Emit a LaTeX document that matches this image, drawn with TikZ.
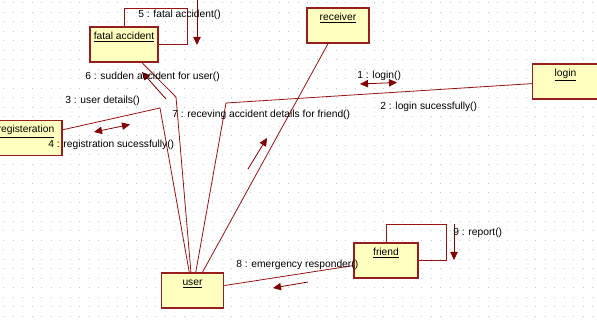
\documentclass[tikz,border=0pt]{standalone}
\usepackage{fontspec}
\setmainfont{Liberation Sans}
\usetikzlibrary{positioning,calc,arrows.meta}

\definecolor{objfill}{RGB}{255,255,192}
\definecolor{objline}{RGB}{150,30,30}
\definecolor{linkcol}{RGB}{150,20,20}
\definecolor{tipcol}{RGB}{128,0,0}
\definecolor{dotcol}{RGB}{200,200,200}
\newcommand{\umlfont}{\fontsize{7.7}{9}\selectfont}

\tikzset{
  obj/.style={draw=objline, fill=objfill, line width=0.8pt, minimum width=#1,
              text height=7pt, text depth=14.75pt, inner xsep=2pt, inner ysep=2.25pt,
              font=\umlfont},
  link/.style={draw=linkcol, line width=0.6pt},
  msg/.style={draw=tipcol, line width=0.6pt, -{Triangle[length=6pt,width=5.5pt]}},
  msgboth/.style={draw=tipcol, line width=0.6pt,
                  {Triangle[length=6pt,width=5.5pt]}-{Triangle[length=6pt,width=5.5pt]}},
  lbl/.style={anchor=west, inner sep=0pt, font=\umlfont}
}

\begin{document}
\begin{tikzpicture}[x=0.75pt, y=-0.75pt]
\clip (0,0) rectangle (597,320);
\fill[white] (0,0) rectangle (597,320);
\foreach \r in {0,...,33}
  \draw[dotcol, line width=0.75pt, dash pattern=on 0.75pt off 6.375pt]
    (3,{3+9.5*\r}) -- (597,{3+9.5*\r});

% objects
\node[obj=51pt]   (fatal)    at (124,44.5)  {\underline{fatal accident}};
\node[obj=46.5pt] (receiver) at (338,25.5)  {\underline{receiver}};
\node[obj=49pt]   (login)    at (565.5,81.5) {\underline{login}};
\node[obj=54pt]   (reg)      at (26,138)    {\underline{registeration}};
\node[obj=47pt]   (user)     at (192.5,290.5) {\underline{user}};
\node[obj=48pt]   (friend)   at (386,260.5) {\underline{friend}};

% bends of the links
\coordinate (regbend)   at (160,108);
\coordinate (fatalbend) at (176,97);
\coordinate (loginbend) at (226,103);

% links
\draw[link] (reg) -- (regbend) -- (user);
\draw[link] (fatal) -- (fatalbend) -- (user);
\draw[link] (login) -- (loginbend) -- (user);
\draw[link] (receiver) -- (user);
\draw[link] (user) -- (friend);
\draw[link] (fatal.north) |- (187,8) |- (fatal.east);
\draw[link] (friend.north) |- (446,224) |- (friend.east);

% message arrows
\coordinate (m5a) at (197,0);   \coordinate (m5b) at (197,45);
\coordinate (m6a) at (166,99);  \coordinate (m6b) at (142,72);
\coordinate (m34a) at (94,132); \coordinate (m34b) at (130,124.5);
\coordinate (m12a) at (360,84); \coordinate (m12b) at (397,82.5);
\coordinate (m7a) at (248,169); \coordinate (m7b) at (267,138);
\coordinate (m8a) at (308,282); \coordinate (m8b) at (273,288);
\coordinate (m9a) at (454,224); \coordinate (m9b) at (454,260);
\draw[msg] (m5a) -- (m5b);
\draw[msg] (m6a) -- (m6b);
\draw[msgboth] (m34a) -- (m34b);
\draw[msgboth] (m12a) -- (m12b);
\draw[msg] (m7a) -- (m7b);
\draw[msg] (m8a) -- (m8b);
\draw[msg] (m9a) -- (m9b);

% message labels
\node[lbl] (l5) at (138,15)  {5 : fatal accident()};
\node[lbl] (l6) at (85,77)   {6 : sudden accident for user()};
\node[lbl] (l3) at (65,101)  {3 : user details()};
\node[lbl] (l4) at (48,145)  {4 : registration sucessfully()};
\node[lbl] (l7) at (172,115) {7 : receving accident details for friend()};
\node[lbl] (l1) at (357,76)  {1 : login()};
\node[lbl] (l2) at (380,107) {2 : login sucessfully()};
\node[lbl] (l8) at (236,265) {8 : emergency responder()};
\node[lbl] (l9) at (453,233) {9 : report()};
\end{tikzpicture}
\end{document}
